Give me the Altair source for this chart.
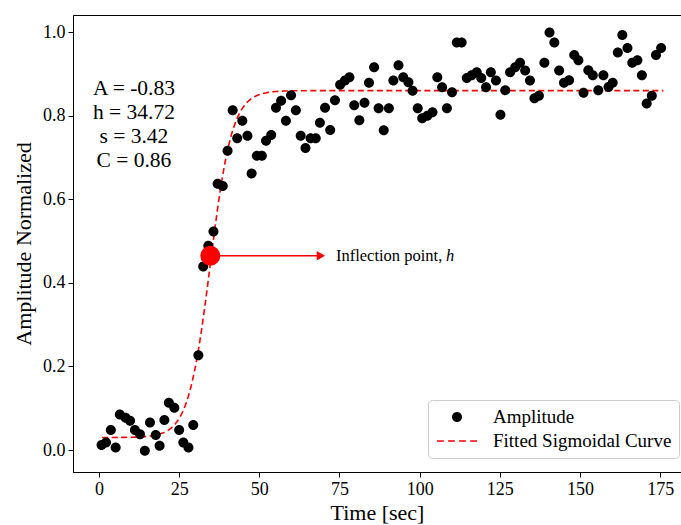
import altair as alt
import numpy as np
import pandas as pd

# ---- data ----
time_sec = [0.8, 2.2, 3.7, 5.2, 6.5, 8.3, 9.7, 11.2, 12.8, 14.3, 15.9, 17.7, 18.9, 20.4, 21.8, 23.5, 25.0, 26.3, 27.9, 29.4,
            31.0, 32.5, 34.1, 35.7, 37.0, 38.6, 40.1, 41.7, 43.1, 44.7, 46.3, 47.6, 49.2, 50.8, 52.1, 53.7, 55.2, 56.8, 58.3, 59.9,
            61.4, 62.9, 64.4, 66.0, 67.6, 68.9, 70.5, 72.1,
            73.6, 75.2, 76.7, 78.1, 79.6, 81.2, 82.8, 84.2, 85.8, 87.2, 88.8, 90.4, 91.8, 93.4, 94.9, 96.5, 97.8, 99.4, 100.8, 102.4,
            104.0, 105.5, 107.0, 108.5, 110.1, 111.6, 113.1, 114.7, 116.2, 117.8, 119.2, 120.7, 122.2, 123.8, 125.2, 126.7, 128.2,
            129.8, 131.3, 132.9, 134.4, 135.8, 137.2, 138.9, 140.5, 142.0, 143.5, 145.0,
            146.6, 148.2, 149.5, 151.1, 152.6, 154.0, 155.7, 157.3, 158.9, 160.2, 161.8, 163.2, 164.8, 166.3, 167.9, 169.3, 170.8,
            172.4, 173.7, 175.3]
amplitude = [0.012, 0.018, 0.048, 0.006, 0.085, 0.077, 0.070, 0.048, 0.038, -0.002, 0.066, 0.036, 0.010, 0.072, 0.113, 0.101,
             0.048, 0.018, 0.006, 0.060,
             0.227, 0.439, 0.489, 0.523, 0.637, 0.632, 0.716, 0.813, 0.746, 0.788, 0.752, 0.662, 0.704, 0.704, 0.740, 0.754,
             0.819, 0.836, 0.788, 0.849, 0.813, 0.752, 0.723, 0.746, 0.746, 0.783, 0.819, 0.766,
             0.837, 0.874, 0.884, 0.892, 0.825, 0.789, 0.831, 0.879, 0.916, 0.818, 0.765, 0.818, 0.884, 0.921, 0.892, 0.880,
             0.860, 0.818, 0.794, 0.800,
             0.808, 0.892, 0.868, 0.818, 0.856, 0.975, 0.975, 0.890, 0.897, 0.904, 0.890, 0.868, 0.904, 0.884, 0.802, 0.861,
             0.904, 0.916, 0.927, 0.908, 0.884, 0.842, 0.848, 0.927, 0.999, 0.975, 0.908, 0.879,
             0.885, 0.945, 0.933, 0.855, 0.909, 0.897, 0.861, 0.897, 0.869, 0.879, 0.951, 0.993, 0.962, 0.927, 0.933, 0.897,
             0.829, 0.848, 0.945, 0.962]

# fitted parameters shown in the chart
A, h, s, C = -0.83, 34.72, 3.42, 0.86
fit_x = np.linspace(1, 176, 400)
fit_y = C + A / (1 + np.exp((fit_x - h) / s))

inflection_x = [34.72]
inflection_y = [0.465]
arrow_x = [34.72, 69.2]
arrow_y = [0.465, 0.465]

series_names = ["Amplitude", "Fitted Sigmoidal Curve"]
x_ticks = [0, 25, 50, 75, 100, 125, 150, 175]
y_ticks = [0.0, 0.2, 0.4, 0.6, 0.8, 1.0]
param_text = f"A = {A:.2f}\nh = {h:.2f}\ns = {s:.2f}\nC = {C:.2f}"

FONT = "Liberation Serif"

df_pts = pd.DataFrame({"time": time_sec, "amp": amplitude, "series": series_names[0]})
df_fit = pd.DataFrame({"time": fit_x, "amp": fit_y})
df_inf = pd.DataFrame({"time": inflection_x, "amp": inflection_y})
df_arrow = pd.DataFrame({"time": arrow_x, "amp": arrow_y})

xscale = alt.Scale(domain=[-8.1, 181.5], nice=False, zero=False)
yscale = alt.Scale(domain=[-0.0526, 1.041], nice=False, zero=False)

xaxis = alt.Axis(values=x_ticks, title="Time [sec]", grid=False, labelFontSize=18, titleFontSize=22,
                 tickSize=5, labelPadding=3, titlePadding=4, labelFlush=False, titleFontWeight="normal")
yaxis = alt.Axis(values=y_ticks, title="Amplitude Normalized", format=".1f", grid=False, labelFontSize=18,
                 titleFontSize=22, tickSize=5, labelPadding=3, titlePadding=7, labelFlush=False,
                 titleFontWeight="normal")

X = alt.X("time:Q", scale=xscale, axis=xaxis)
Y = alt.Y("amp:Q", scale=yscale, axis=yaxis)

# symbol paths (unit = half of sqrt(size))
circle_path = "M-0.5,0A0.5,0.5 0 1,0 0.5,0A0.5,0.5 0 1,0 -0.5,0Z"
dash_path = ("M-2,-0.08L-1.32,-0.08L-1.32,0.08L-2,0.08Z "
             "M-0.893,-0.08L-0.213,-0.08L-0.213,0.08L-0.893,0.08Z "
             "M0.213,-0.08L0.893,-0.08L0.893,0.08L0.213,0.08Z "
             "M1.32,-0.08L2,-0.08L2,0.08L1.32,0.08Z")

legend = alt.Legend(title=None, orient="none", legendX=355, legendY=385, labelFontSize=19, labelFont=FONT,
                    symbolSize=400, symbolStrokeWidth=0, symbolOffset=12, labelOffset=26, padding=7,
                    rowPadding=4, labelLimit=400, strokeColor="#cccccc", fillColor="white", cornerRadius=4,
                    labelColor="black", symbolOpacity=1)

points = alt.Chart(df_pts).mark_point(filled=True, opacity=1, size=400, strokeWidth=0).encode(
    x=X, y=Y,
    color=alt.Color("series:N", scale=alt.Scale(domain=series_names, range=["black", "red"]), legend=legend),
    shape=alt.Shape("series:N", scale=alt.Scale(domain=series_names, range=[circle_path, dash_path]), legend=legend),
)

fit = alt.Chart(df_fit).mark_line(color="red", strokeDash=[6, 3.5], strokeWidth=1.6).encode(x=X, y=Y)

arrow_line = alt.Chart(df_arrow).mark_line(color="red", strokeWidth=1.6).encode(x=X, y=Y)
arrow_head = alt.Chart(df_arrow.tail(1)).mark_point(shape="triangle-right", filled=True, color="red",
                                                    opacity=1, size=90).encode(x=X, y=Y)

inf_dot = alt.Chart(df_inf).mark_circle(color="red", size=400, opacity=1).encode(x=X, y=Y)

inf_text = alt.Chart(df_inf).mark_text(text="Inflection point, ", font=FONT, fontSize=16.5, align="left",
                                       baseline="middle", color="black").encode(
    x=alt.datum(73.9), y=alt.datum(inflection_y[0]))
inf_h = alt.Chart(df_inf).mark_text(text="h", font=FONT, fontSize=16.5, fontStyle="italic", align="left",
                                    baseline="middle", color="black", dx=110).encode(
    x=alt.datum(73.9), y=alt.datum(inflection_y[0]))

params = alt.Chart(df_inf).mark_text(text=param_text, font=FONT, fontSize=21.5, align="center",
                                     baseline="middle", lineBreak="\n", lineHeight=24, color="black").encode(
    x=alt.datum(10.9), y=alt.datum(0.864))

chart = alt.layer(fit, points, arrow_line, arrow_head, inf_dot, inf_text, inf_h, params).properties(
    width=608, height=457,
    autosize=alt.AutoSizeParams(type="none"),
    padding={"left": 73, "top": 15, "right": 0, "bottom": 53},
).configure(font=FONT).configure_view(stroke="black", strokeWidth=1).configure_axis(
    labelFont=FONT, titleFont=FONT, labelColor="black", titleColor="black", domainColor="black",
    tickColor="black", domainWidth=1, tickWidth=1
)

chart.save("out.html", embed_options={"renderer": "svg", "actions": False})
